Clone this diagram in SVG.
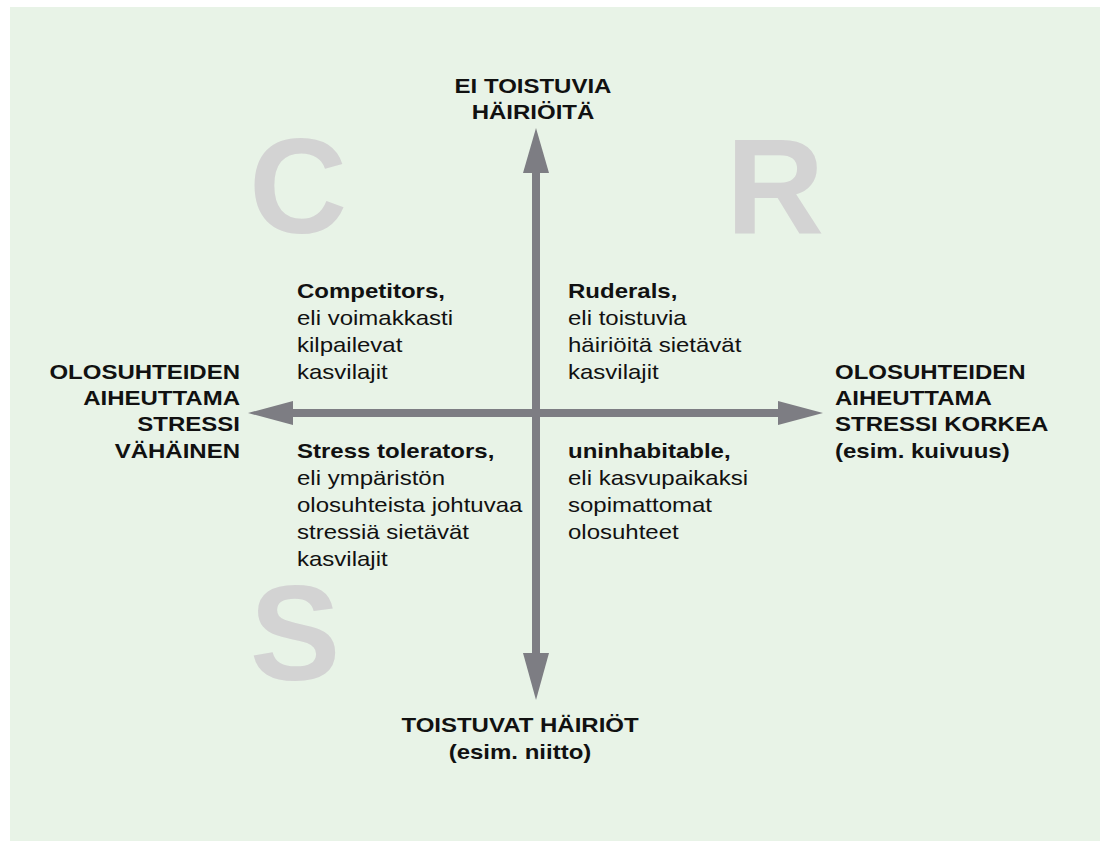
<svg xmlns="http://www.w3.org/2000/svg" width="1100" height="841" viewBox="0 0 1100 841">
<style>
.b{font-family:"Liberation Sans",Arial,sans-serif;font-weight:bold;font-size:20px;fill:#111}
.r{font-family:"Liberation Sans",Arial,sans-serif;font-size:20px;fill:#111}
.big{font-family:"Liberation Sans",Arial,sans-serif;font-weight:bold;font-size:136px;fill:#d3d3d3;text-anchor:middle}
.ax{fill:#7d7d83}
</style>
<rect width="1100" height="841" fill="#ffffff"/>
<rect x="10" y="7" width="1090" height="834" fill="#e8f3e7"/>
<g id="letters">
<text class="big" x="298" y="233">C</text>
<text class="big" x="775" y="233">R</text>
<text class="big" x="295" y="680">S</text>
</g>
<g id="connectors">
<rect class="ax" x="532" y="170" width="8" height="486"/>
<polygon class="ax" points="536,128 523,173 549,173"/>
<polygon class="ax" points="536,700 523,653 549,653"/>
<rect class="ax" x="290" y="409" width="491" height="8"/>
<polygon class="ax" points="248,413 293,401 293,425"/>
<polygon class="ax" points="823,413 778,401 778,425"/>
</g>
<g id="top" transform="translate(533,0) scale(1.2,1)">
<text class="b" text-anchor="middle" y="93">EI TOISTUVIA</text>
<text class="b" text-anchor="middle" y="119">HÄIRIÖITÄ</text>
</g>
<g id="left" transform="translate(240,0) scale(1.2,1)">
<text class="b" text-anchor="end" y="379">OLOSUHTEIDEN</text>
<text class="b" text-anchor="end" y="405">AIHEUTTAMA</text>
<text class="b" text-anchor="end" y="431">STRESSI</text>
<text class="b" text-anchor="end" y="458">VÄHÄINEN</text>
</g>
<g id="right" transform="translate(835,0) scale(1.2,1)">
<text class="b" y="379">OLOSUHTEIDEN</text>
<text class="b" y="405">AIHEUTTAMA</text>
<text class="b" y="431">STRESSI KORKEA</text>
<text class="b" y="458">(esim. kuivuus)</text>
</g>
<g id="bottom" transform="translate(520,0) scale(1.2,1)">
<text class="b" text-anchor="middle" y="732">TOISTUVAT HÄIRIÖT</text>
<text class="b" text-anchor="middle" y="759">(esim. niitto)</text>
</g>
<g id="competitors" transform="translate(297,0) scale(1.2,1)">
<text class="b" y="298">Competitors,</text>
<text class="r" y="325">eli voimakkasti</text>
<text class="r" y="352">kilpailevat</text>
<text class="r" y="379">kasvilajit</text>
</g>
<g id="ruderals" transform="translate(568,0) scale(1.2,1)">
<text class="b" y="298">Ruderals,</text>
<text class="r" y="325">eli toistuvia</text>
<text class="r" y="352">häiriöitä sietävät</text>
<text class="r" y="379">kasvilajit</text>
</g>
<g id="stress" transform="translate(297,0) scale(1.2,1)">
<text class="b" y="458">Stress tolerators,</text>
<text class="r" y="485">eli ympäristön</text>
<text class="r" y="512">olosuhteista johtuvaa</text>
<text class="r" y="539">stressiä sietävät</text>
<text class="r" y="566">kasvilajit</text>
</g>
<g id="uninhabitable" transform="translate(568,0) scale(1.2,1)">
<text class="b" y="458">uninhabitable,</text>
<text class="r" y="485">eli kasvupaikaksi</text>
<text class="r" y="512">sopimattomat</text>
<text class="r" y="539">olosuhteet</text>
</g>
</svg>
